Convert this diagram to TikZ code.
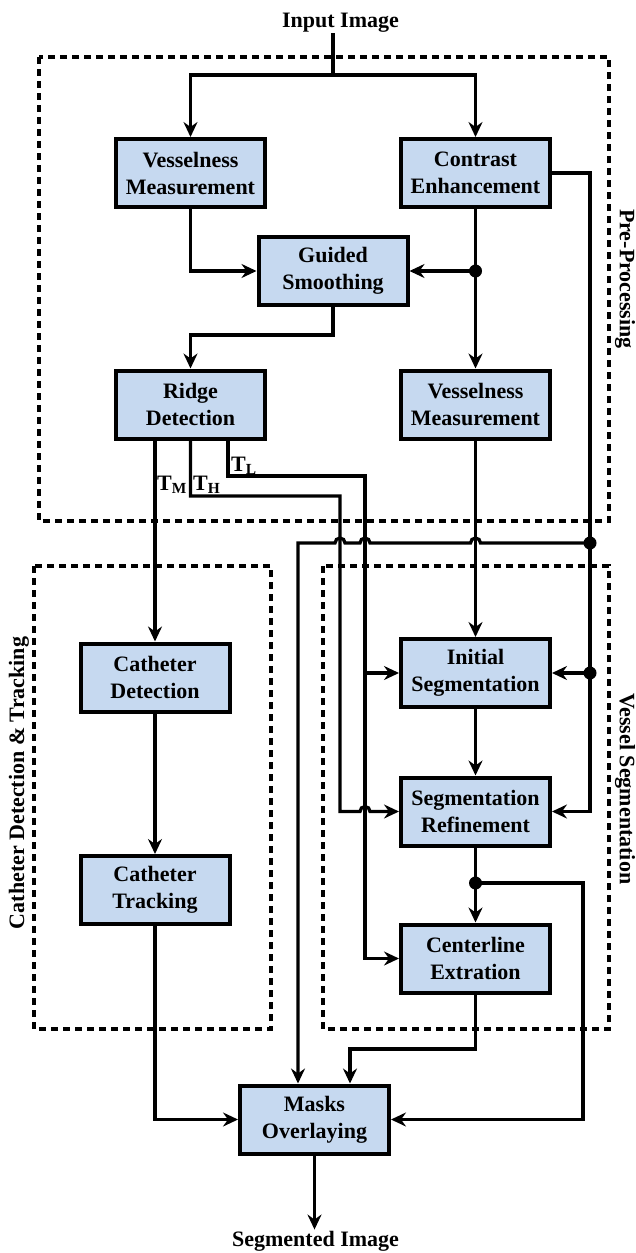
\documentclass[tikz,border=0pt]{standalone}
\usepackage{fontspec}
\setmainfont{Liberation Serif}
\usepackage{tikz}
\usetikzlibrary{arrows.meta,positioning,calc}
\definecolor{boxblue}{RGB}{198,217,240}

\begin{document}
\begin{tikzpicture}[x=1pt, y=-1pt, font=\bfseries\fontsize{22}{27}\selectfont,
  box/.style={draw, line width=4pt, fill=boxblue, align=center, minimum width=149pt, minimum height=68pt, inner sep=0pt},
  arr/.style={-{Stealth[length=15pt,width=14pt,inset=5pt]}, line width=3.3pt},
  wire/.style={line width=3.3pt},
  group/.style={line width=4pt, dash pattern=on 7pt off 5pt},
  side/.style={inner sep=0pt},
  term/.style={inner sep=1pt},
  thr/.style={anchor=base west, inner sep=0pt}]
\useasboundingbox (0,0) rectangle (636,1253);

% stage frames
\draw[group] (39,57) rectangle (609,521);
\draw[group] (34,566) rectangle (271,1029);
\draw[group] (323,566) rectangle (609,1029);
\node[side, rotate=-90] (lpre) at (625,279) {Pre-Processing};
\node[side, rotate=90] (lcat) at (19,783) {Catheter Detection \& Tracking};
\node[side, rotate=-90] (lves) at (625,789) {Vessel Segmentation};

% blocks
\node[term, anchor=base] (in) at (340.5,27) {Input Image};
\node[box] (vm1) at (190.5,173) {Vesselness\\Measurement};
\node[box] (ce) at (475.5,173) {Contrast\\Enhancement};
\node[box] (gs) at (333,271) {Guided\\Smoothing};
\node[box] (rd) at (190.5,404.5) {Ridge\\Detection};
\node[box] (vm2) at (475.5,404.5) {Vesselness\\Measurement};
\node[box] (cd) at (155,677.5) {Catheter\\Detection};
\node[box] (ct) at (155,890) {Catheter\\Tracking};
\node[box] (is) at (475.5,673) {Initial\\Segmentation};
\node[box] (sr) at (475.5,811.5) {Segmentation\\Refinement};
\node[box] (cx) at (475.5,958.5) {Centerline\\Extration};
\node[box] (mo) at (314.5,1119.5) {Masks\\Overlaying};
\node[term, anchor=base] (out) at (315.5,1246) {Segmented Image};

% bends and junctions
\coordinate (split) at (333,75);
\coordinate (g1) at (333,335);
\coordinate (d1) at (ce.south |- gs.east);
\coordinate (d2) at (590,543);
\coordinate (d3) at (d2 |- is.east);
\coordinate (d4) at (475.5,883);
\coordinate (r2) at (583,883);
\coordinate (tl) at (365,476);
\coordinate (th) at (340,496);
\coordinate (c1) at (475.5,1049);
\coordinate (mleft) at ([xshift=-16.5pt]mo.north);
\coordinate (mright) at ([xshift=35.5pt]mo.north);

% pre-processing
\draw[wire] (split |- in.south) -- (split);
\draw[arr] (split) -| (vm1.north);
\draw[arr] (split) -| (ce.north);
\draw[arr] (vm1.south) |- (gs.west);
\draw[arr] (ce.south) -- (vm2.north);
\draw[arr] (d1) -- (gs.east);
\draw[arr] (gs.south) -- (g1) -| (rd.north);
\draw[arr] (ce.east) -| (d2) |- (sr.east);
\draw[arr] (d3) -- (is.east);

% thresholds out of ridge detection
\draw[arr] (cd.north |- rd.south) -- (cd.north);
\draw[arr] (rd.south) |- (th) -- (th |- sr.west)
  -- ([xshift=-5pt]tl |- sr.west) arc[start angle=180, end angle=0, radius=5pt] -- (sr.west);
\draw[arr] ([xshift=37.5pt]rd.south) |- (tl) |- (cx.west);
\draw[arr] (tl |- is.west) -- (is.west);
\node[thr] (lm) at (157,490) {T\textsubscript{M}};
\node[thr] (lh) at (193,490) {T\textsubscript{H}};
\node[thr] (ll) at (231,471) {T\textsubscript{L}};

% contrast bus to masks overlaying
\draw[arr] (d2) -- ([xshift=5pt]vm2.south |- d2) arc[start angle=0, end angle=180, radius=5pt]
  -- ([xshift=5pt]tl |- d2) arc[start angle=0, end angle=180, radius=5pt]
  -- ([xshift=5pt]th |- d2) arc[start angle=0, end angle=180, radius=5pt]
  -- (mleft |- d2) -- (mleft);

% segmentation chain
\draw[arr] (vm2) -- (is);
\draw[arr] (is) -- (sr);
\draw[arr] (sr) -- (cx);
\draw[arr] (d4) -- (r2) |- (mo.east);
\draw[arr] (cx.south) -- (c1) -| (mright);

% catheter chain
\draw[arr] (cd) -- (ct);
\draw[arr] (ct.south) |- (mo.west);
\draw[arr] (mo.south) -- (mo.south |- out.north);

\foreach \j in {d1,d2,d3,d4}
  \fill (\j) circle (6.5pt);
\end{tikzpicture}
\end{document}
